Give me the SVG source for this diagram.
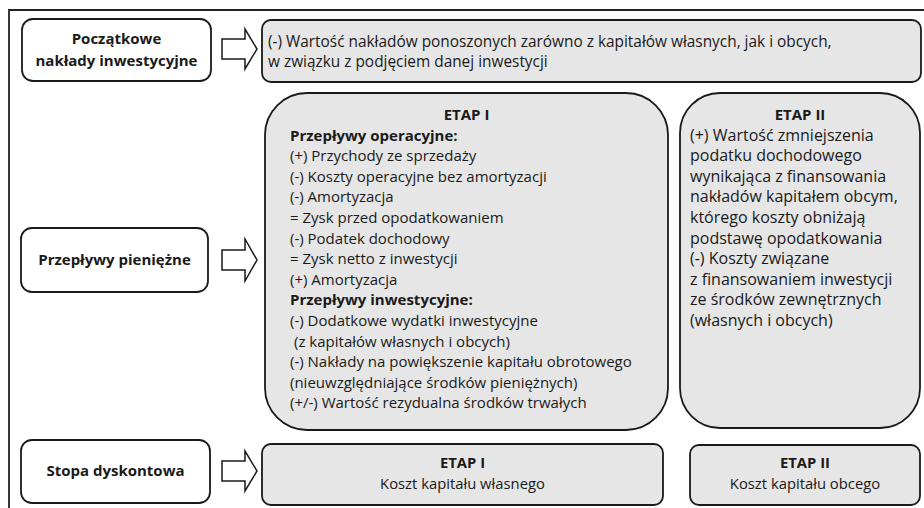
<svg xmlns="http://www.w3.org/2000/svg" width="924" height="508" viewBox="0 0 924 508">
<style>
.frame{fill:none;stroke:#222;stroke-width:1.8}
.node{fill:#fff;stroke:#1a1a1a;stroke-width:1.8}
.gray{fill:#e6e6e6;stroke:#1a1a1a;stroke-width:1.8}
.arrow{fill:#fff;stroke:#1a1a1a;stroke-width:1.5;stroke-linejoin:miter}
text{font-family:"Open Sans","Liberation Sans",sans-serif;font-size:15px;fill:#1a1a1a}
.b{font-weight:700}
.c{text-anchor:middle}
.t1 text{font-size:15.4px}
.t2 text{font-size:16px}
.t2 text.h{font-size:15px}
.t3 text{font-size:14.8px}
</style>
<rect width="924" height="508" fill="#fff"/>
<path class="frame" d="M9,508 V10 H924"/>

<g id="node-poczatkowe">
<rect class="node" x="22" y="19" width="189" height="62" rx="11"/>
<text class="b c" x="116.5" y="44">Początkowe</text>
<text class="b c" x="116.5" y="66">nakłady inwestycyjne</text>
</g>
<g id="node-przeplywy">
<rect class="node" x="21" y="228" width="187" height="64" rx="11"/>
<text class="b c" x="114.5" y="265">Przepływy pieniężne</text>
</g>
<g id="node-stopa">
<rect class="node" x="21" y="440" width="189" height="63" rx="11"/>
<text class="b c" x="115.5" y="476">Stopa dyskontowa</text>
</g>

<g id="box-naklady" class="t1">
<rect class="gray" x="262" y="20" width="659" height="62" rx="9"/>
<text x="268" y="47">(-) Wartość nakładów ponoszonych zarówno z kapitałów własnych, jak i obcych,</text>
<text x="268" y="67">w związku z podjęciem danej inwestycji</text>
</g>

<g id="box-etap1-przeplywy">
<rect class="gray" x="265" y="93" width="403" height="337" rx="42"/>
<text class="b c" x="466.5" y="120">ETAP I</text>
<text class="b" x="290" y="140.6">Przepływy operacyjne:</text>
<text x="290" y="161.2">(+) Przychody ze sprzedaży</text>
<text x="290" y="181.8">(-) Koszty operacyjne bez amortyzacji</text>
<text x="290" y="202.4">(-) Amortyzacja</text>
<text x="290" y="223">= Zysk przed opodatkowaniem</text>
<text x="290" y="243.6">(-) Podatek dochodowy</text>
<text x="290" y="264.2">= Zysk netto z inwestycji</text>
<text x="290" y="284.8">(+) Amortyzacja</text>
<text class="b" x="290" y="305.4">Przepływy inwestycyjne:</text>
<text x="290" y="326">(-) Dodatkowe wydatki inwestycyjne</text>
<text x="294" y="346.6">(z kapitałów własnych i obcych)</text>
<text x="290" y="367.2">(-) Nakłady na powiększenie kapitału obrotowego</text>
<text x="290" y="387.8">(nieuwzględniające środków pieniężnych)</text>
<text x="290" y="408.4">(+/-) Wartość rezydualna środków trwałych</text>
</g>

<g id="box-etap2-przeplywy" class="t2">
<rect class="gray" x="680" y="93" width="240" height="335" rx="40"/>
<text class="b c h" x="800" y="120">ETAP II</text>
<text x="690" y="140.6">(+) Wartość zmniejszenia</text>
<text x="690" y="161.2">podatku dochodowego</text>
<text x="690" y="181.8">wynikająca z finansowania</text>
<text x="690" y="202.4">nakładów kapitałem obcym,</text>
<text x="690" y="223">którego koszty obniżają</text>
<text x="690" y="243.6">podstawę opodatkowania</text>
<text x="690" y="264.2">(-) Koszty związane</text>
<text x="690" y="284.8">z finansowaniem inwestycji</text>
<text x="690" y="305.4">ze środków zewnętrznych</text>
<text x="690" y="326">(własnych i obcych)</text>
</g>

<g id="box-etap1-stopa" class="t3">
<rect class="gray" x="262" y="444" width="401" height="61" rx="9"/>
<text class="b c" x="462.5" y="468">ETAP I</text>
<text class="c" x="462.5" y="489">Koszt kapitału własnego</text>
</g>
<g id="box-etap2-stopa" class="t3">
<rect class="gray" x="690" y="445" width="230" height="60" rx="9"/>
<text class="b c" x="805" y="468">ETAP II</text>
<text class="c" x="805" y="489">Koszt kapitału obcego</text>
</g>

<g id="connectors">
<path class="arrow" d="M222,39 H245 V29 L257,49 L245,69 V59 H222 Z"/>
<path class="arrow" d="M222,250 H245 V239 L257,260 L245,281 V270 H222 Z"/>
<path class="arrow" d="M222,461 H245 V451 L257,471 L245,491 V481 H222 Z"/>
</g>
</svg>
